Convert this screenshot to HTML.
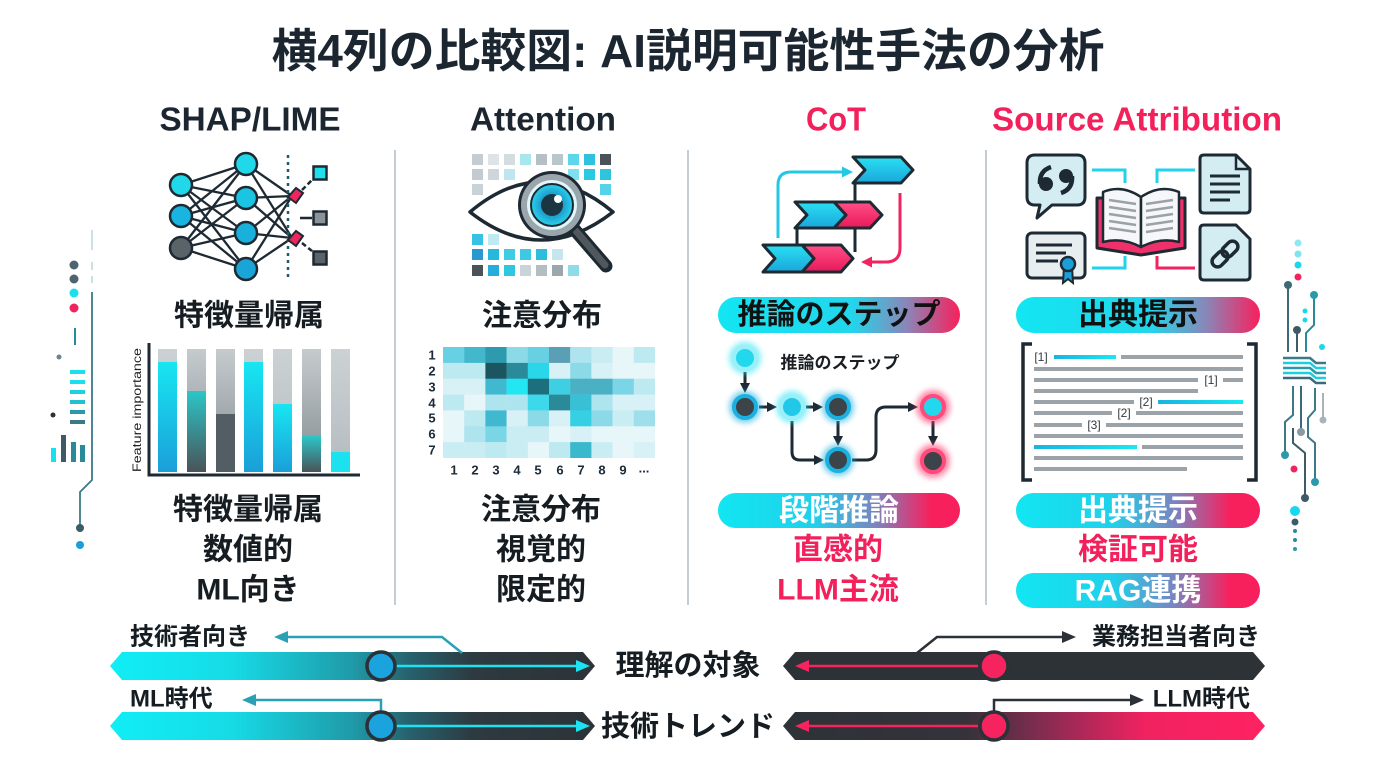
<!DOCTYPE html>
<html><head><meta charset="utf-8"><style>
html,body{margin:0;padding:0;background:#fff;}
svg{display:block;}
text{font-family:"Liberation Sans","Noto Sans CJK JP",sans-serif;font-weight:700;}
.lat{font-family:"Liberation Sans",sans-serif;}
</style></head><body>
<svg width="1376" height="768" viewBox="0 0 1376 768" xmlns="http://www.w3.org/2000/svg">
<defs>
<linearGradient id="pill" x1="0" y1="0" x2="1" y2="0"><stop offset="0" stop-color="#12e6f2"/><stop offset="0.55" stop-color="#22d6ec"/><stop offset="0.78" stop-color="#8a86b8"/><stop offset="1" stop-color="#f8205c"/></linearGradient>
<linearGradient id="pill2" x1="0" y1="0" x2="1" y2="0"><stop offset="0" stop-color="#12e6f2"/><stop offset="0.4" stop-color="#20d0ea"/><stop offset="0.65" stop-color="#7a84c0"/><stop offset="0.88" stop-color="#f8205c"/><stop offset="1" stop-color="#f8205c"/></linearGradient>
<linearGradient id="barL" gradientUnits="userSpaceOnUse" x1="110" y1="0" x2="595" y2="0"><stop offset="0" stop-color="#10eef6"/><stop offset="0.25" stop-color="#16dbe6"/><stop offset="0.5" stop-color="#1f9aa8"/><stop offset="0.62" stop-color="#27606c"/><stop offset="0.75" stop-color="#2d3a40"/><stop offset="1" stop-color="#2d3338"/></linearGradient>
<linearGradient id="barR2" gradientUnits="userSpaceOnUse" x1="783" y1="0" x2="1265" y2="0"><stop offset="0" stop-color="#2d3338"/><stop offset="0.38" stop-color="#35323a"/><stop offset="0.55" stop-color="#8a2b52"/><stop offset="0.75" stop-color="#f02260"/><stop offset="1" stop-color="#ff2262"/></linearGradient>
<linearGradient id="cb" x1="0" y1="0" x2="0" y2="1"><stop offset="0" stop-color="#18e6f2"/><stop offset="1" stop-color="#1a9fd8"/></linearGradient>
<linearGradient id="tb" x1="0" y1="0" x2="0" y2="1"><stop offset="0" stop-color="#2bc6c8"/><stop offset="1" stop-color="#4a5358"/></linearGradient>
<linearGradient id="gb" x1="0" y1="0" x2="0" y2="1"><stop offset="0" stop-color="#ccd1d4"/><stop offset="1" stop-color="#b4bbbf"/></linearGradient>
<linearGradient id="gb2" x1="0" y1="0" x2="0" y2="1"><stop offset="0" stop-color="#c6cbce"/><stop offset="1" stop-color="#838b90"/></linearGradient>
<linearGradient id="cv" x1="0" y1="0" x2="0" y2="1"><stop offset="0" stop-color="#2ae0f2"/><stop offset="1" stop-color="#1aa6dc"/></linearGradient>
<linearGradient id="pv" x1="0" y1="0" x2="0" y2="1"><stop offset="0" stop-color="#ff5088"/><stop offset="1" stop-color="#e8185a"/></linearGradient>
<linearGradient id="cl" x1="0" y1="0" x2="1" y2="0"><stop offset="0" stop-color="#18b4e0"/><stop offset="1" stop-color="#18e8f2"/></linearGradient>
<radialGradient id="iris" cx="0.5" cy="0.5" r="0.5"><stop offset="0.4" stop-color="#1a8fc4"/><stop offset="1" stop-color="#2ad2ec"/></radialGradient>
<filter id="blur" x="-60%" y="-60%" width="220%" height="220%"><feGaussianBlur stdDeviation="3"/></filter>
<marker id="mC" markerUnits="userSpaceOnUse" markerWidth="14" markerHeight="14" refX="0" refY="7" orient="auto" viewBox="0 0 14 14"><path d="M0,1 L14,7 L0,13 z" fill="#1de2f2"/></marker>
<marker id="mP" markerUnits="userSpaceOnUse" markerWidth="14" markerHeight="14" refX="0" refY="7" orient="auto" viewBox="0 0 14 14"><path d="M0,1 L14,7 L0,13 z" fill="#f5245f"/></marker>
<marker id="mT" markerUnits="userSpaceOnUse" markerWidth="14" markerHeight="14" refX="0" refY="7" orient="auto" viewBox="0 0 14 14"><path d="M0,1 L14,7 L0,13 z" fill="#2aa0b4"/></marker>
<marker id="mD" markerUnits="userSpaceOnUse" markerWidth="14" markerHeight="14" refX="0" refY="7" orient="auto" viewBox="0 0 14 14"><path d="M0,1 L14,7 L0,13 z" fill="#2b3136"/></marker>
<marker id="mS" markerUnits="userSpaceOnUse" markerWidth="10" markerHeight="10" refX="0" refY="5" orient="auto" viewBox="0 0 10 10"><path d="M0,0 L10,5 L0,10 z" fill="#1e2a33"/></marker>
<marker id="mCy" markerUnits="userSpaceOnUse" markerWidth="11" markerHeight="11" refX="0" refY="5.5" orient="auto" viewBox="0 0 11 11"><path d="M0,0 L11,5.5 L0,11 z" fill="#22c8e4"/></marker>
<marker id="mPk" markerUnits="userSpaceOnUse" markerWidth="11" markerHeight="11" refX="0" refY="5.5" orient="auto" viewBox="0 0 11 11"><path d="M0,0 L11,5.5 L0,11 z" fill="#f0245e"/></marker>
</defs>

<rect width="1376" height="768" fill="#ffffff"/>

<!-- Title -->
<text x="688" y="51" font-size="46" fill="#1b2631" text-anchor="middle" dominant-baseline="central" textLength="833" lengthAdjust="spacingAndGlyphs">横4列の比較図: AI説明可能性手法の分析</text>

<!-- Headers -->
<text class="lat" x="250" y="119" font-size="33" fill="#1b2631" text-anchor="middle" dominant-baseline="central" textLength="181" lengthAdjust="spacingAndGlyphs">SHAP/LIME</text>
<text class="lat" x="543" y="119" font-size="33" fill="#1b2631" text-anchor="middle" dominant-baseline="central" textLength="146" lengthAdjust="spacingAndGlyphs">Attention</text>
<text class="lat" x="836" y="119" font-size="33" fill="#f2215c" text-anchor="middle" dominant-baseline="central" textLength="60" lengthAdjust="spacingAndGlyphs">CoT</text>
<text class="lat" x="1137" y="119" font-size="33" fill="#f2215c" text-anchor="middle" dominant-baseline="central" textLength="290" lengthAdjust="spacingAndGlyphs">Source Attribution</text>

<!-- dividers -->
<g stroke="#c3cdd3" stroke-width="2">
<line x1="395" y1="150" x2="395" y2="605"/>
<line x1="688" y1="150" x2="688" y2="605"/>
<line x1="986" y1="150" x2="986" y2="605"/>
</g>

<!-- ===== Column 1 ===== -->
<g stroke="#1e2a33" stroke-width="2.3">
<line x1="181" y1="185" x2="246" y2="164"/><line x1="181" y1="185" x2="246" y2="198"/><line x1="181" y1="185" x2="246" y2="233"/><line x1="181" y1="185" x2="246" y2="269"/>
<line x1="181" y1="216" x2="246" y2="164"/><line x1="181" y1="216" x2="246" y2="198"/><line x1="181" y1="216" x2="246" y2="233"/><line x1="181" y1="216" x2="246" y2="269"/>
<line x1="181" y1="248" x2="246" y2="164"/><line x1="181" y1="248" x2="246" y2="198"/><line x1="181" y1="248" x2="246" y2="233"/><line x1="181" y1="248" x2="246" y2="269"/>
<line x1="246" y1="164" x2="292" y2="196"/><line x1="246" y1="198" x2="292" y2="196"/><line x1="246" y1="233" x2="292" y2="196"/><line x1="246" y1="269" x2="292" y2="196"/>
<line x1="246" y1="164" x2="292" y2="238"/><line x1="246" y1="198" x2="292" y2="238"/><line x1="246" y1="233" x2="292" y2="238"/><line x1="246" y1="269" x2="292" y2="238"/>
</g>
<line x1="288" y1="155" x2="288" y2="280" stroke="#1e5a70" stroke-width="2.5" stroke-dasharray="3,4"/>
<g stroke="#1e2a33" stroke-width="2.5">
<line x1="302" y1="190" x2="312" y2="180" stroke-dasharray="5,3"/>
<line x1="300" y1="218" x2="312" y2="218"/>
<line x1="302" y1="243" x2="312" y2="251" stroke-dasharray="5,3"/>
</g>
<g stroke="#1e2a33" stroke-width="2.5">
<circle cx="181" cy="185" r="11" fill="#20d8ea"/>
<circle cx="181" cy="216" r="11" fill="#1ab4e0"/>
<circle cx="181" cy="248" r="11" fill="#5a6368"/>
<circle cx="246" cy="164" r="11" fill="#20d8ea"/>
<circle cx="246" cy="198" r="11" fill="#1cc4e4"/>
<circle cx="246" cy="233" r="11" fill="#1ab0dc"/>
<circle cx="246" cy="269" r="11" fill="#1aa4d8"/>
<polygon points="288,197 296,188 303,193 296,203" fill="#f0245e" stroke-width="2"/>
<polygon points="288,240 296,231 303,236 296,246" fill="#f0245e" stroke-width="2"/>
<rect x="313.5" y="166.5" width="13" height="13" fill="#20e0ee"/>
<rect x="313.5" y="211.5" width="13" height="13" fill="#8a9398"/>
<rect x="313.5" y="251.5" width="13" height="13" fill="#5a6368"/>
</g>
<text x="249" y="316" font-size="30" fill="#151c22" text-anchor="middle" dominant-baseline="central">特徴量帰属</text>

<!-- bar chart -->
<rect x="158" y="349" width="19" height="123" fill="url(#gb)"/>
<rect x="187" y="349" width="19" height="123" fill="url(#gb2)"/>
<rect x="216" y="349" width="19" height="123" fill="url(#gb2)"/>
<rect x="244" y="349" width="19" height="123" fill="url(#gb)"/>
<rect x="273" y="349" width="19" height="123" fill="url(#gb)"/>
<rect x="302" y="349" width="19" height="123" fill="url(#gb2)"/>
<rect x="331" y="349" width="19" height="123" fill="url(#gb)"/>
<rect x="158" y="362" width="19" height="110" fill="url(#cb)"/>
<rect x="187" y="391" width="19" height="81" fill="url(#tb)"/>
<rect x="216" y="414" width="19" height="58" fill="#525d64"/>
<rect x="244" y="362" width="19" height="110" fill="url(#cb)"/>
<rect x="273" y="404" width="19" height="68" fill="url(#cb)"/>
<rect x="302" y="436" width="19" height="36" fill="url(#tb)"/>
<rect x="331" y="452" width="19" height="20" fill="#1ce2f0"/>
<path d="M149,343 V475 H360" fill="none" stroke="#1e2a33" stroke-width="3"/>
<text class="lat" x="0" y="0" transform="translate(137,410) rotate(-90)" font-size="12" font-weight="400" style="font-weight:400" fill="#222" text-anchor="middle" dominant-baseline="central" textLength="124" lengthAdjust="spacingAndGlyphs">Feature importance</text>

<text x="248" y="510" font-size="30" fill="#151c22" text-anchor="middle" dominant-baseline="central">特徴量帰属</text>
<text x="248" y="550" font-size="30" fill="#151c22" text-anchor="middle" dominant-baseline="central">数値的</text>
<text x="248" y="590" font-size="30" fill="#151c22" text-anchor="middle" dominant-baseline="central">ML向き</text>

<!-- ===== Column 2 ===== -->
<g>
<rect x="472" y="154" width="11" height="11" fill="#c5cdd2"/><rect x="488" y="154" width="11" height="11" fill="#dde3e6"/><rect x="504" y="154" width="11" height="11" fill="#d3dde1"/><rect x="520" y="154" width="11" height="11" fill="#a9e7ef"/><rect x="536" y="154" width="11" height="11" fill="#b5c0c6"/><rect x="552" y="154" width="11" height="11" fill="#b9c6cc"/><rect x="568" y="154" width="11" height="11" fill="#5bd6ea"/><rect x="584" y="154" width="11" height="11" fill="#2ec2de"/><rect x="600" y="154" width="11" height="11" fill="#4b5359"/>
<rect x="472" y="169" width="11" height="11" fill="#c3cbd0"/><rect x="488" y="169" width="11" height="11" fill="#cdd6da"/><rect x="504" y="169" width="11" height="11" fill="#bfe6ee"/><rect x="568" y="169" width="11" height="11" fill="#7edfee"/><rect x="584" y="169" width="11" height="11" fill="#2ac8e2"/><rect x="600" y="169" width="11" height="11" fill="#2fc4dc"/>
<rect x="472" y="184" width="11" height="11" fill="#c8d3d8"/><rect x="600" y="184" width="11" height="11" fill="#55d3e8"/>
<rect x="472" y="234" width="11" height="11" fill="#36c2e4"/><rect x="488" y="234" width="11" height="11" fill="#bfeaf2"/>
<rect x="472" y="249" width="11" height="11" fill="#2a98d0"/><rect x="488" y="249" width="11" height="11" fill="#27b8de"/><rect x="504" y="249" width="11" height="11" fill="#3fcce2"/><rect x="520" y="249" width="11" height="11" fill="#3ec8e2"/><rect x="536" y="249" width="11" height="11" fill="#2ebedc"/><rect x="552" y="249" width="11" height="11" fill="#c6e6ee"/>
<rect x="472" y="265" width="11" height="11" fill="#4b5359"/><rect x="488" y="265" width="11" height="11" fill="#27addc"/><rect x="504" y="265" width="11" height="11" fill="#2fc6e0"/><rect x="520" y="265" width="11" height="11" fill="#c9d3d8"/><rect x="536" y="265" width="11" height="11" fill="#b3bec4"/><rect x="552" y="265" width="11" height="11" fill="#9aa8ae"/><rect x="568" y="265" width="11" height="11" fill="#8edbea"/>
</g>
<path d="M470,212 Q541,152 613,212 Q541,268 470,212 Z" fill="#ffffff" stroke="#1e2a33" stroke-width="3.5" stroke-linejoin="round"/>
<line x1="574" y1="229" x2="606" y2="266" stroke="#1e2a33" stroke-width="13" stroke-linecap="round"/>
<line x1="576" y1="231" x2="605" y2="265" stroke="#50585e" stroke-width="7" stroke-linecap="round"/>
<circle cx="552" cy="205" r="34" fill="#1e2a33"/>
<circle cx="552" cy="205" r="31" fill="#9aa6ac"/>
<circle cx="552" cy="205" r="25" fill="#dff6fa"/>
<circle cx="552" cy="205" r="21" fill="url(#iris)" stroke="#1e2a33" stroke-width="2"/>
<circle cx="552" cy="205" r="11" fill="#1c3542"/>
<circle cx="558" cy="199" r="4" fill="#ffffff"/>
<text x="542" y="316" font-size="30" fill="#151c22" text-anchor="middle" dominant-baseline="central">注意分布</text>

<!-- heatmap -->
<g>
<rect x="443" y="347" width="21.4" height="16.1" fill="#68d0e3"/><rect x="464.2" y="347" width="21.4" height="16.1" fill="#43b8cc"/><rect x="485.4" y="347" width="21.4" height="16.1" fill="#2d9aad"/><rect x="506.6" y="347" width="21.4" height="16.1" fill="#8cdae8"/><rect x="527.8" y="347" width="21.4" height="16.1" fill="#68d0e3"/><rect x="549" y="347" width="21.4" height="16.1" fill="#5a9fb5"/><rect x="570.2" y="347" width="21.4" height="16.1" fill="#aee4ee"/><rect x="591.4" y="347" width="21.4" height="16.1" fill="#c9edf3"/><rect x="612.6" y="347" width="21.4" height="16.1" fill="#e6f6f9"/><rect x="633.8" y="347" width="21.2" height="16.1" fill="#bde9f1"/>
<rect x="443" y="362.9" width="21.4" height="16.1" fill="#bde9f1"/><rect x="464.2" y="362.9" width="21.4" height="16.1" fill="#bde9f1"/><rect x="485.4" y="362.9" width="21.4" height="16.1" fill="#1a5560"/><rect x="506.6" y="362.9" width="21.4" height="16.1" fill="#2a8a9a"/><rect x="527.8" y="362.9" width="21.4" height="16.1" fill="#2ad6ea"/><rect x="549" y="362.9" width="21.4" height="16.1" fill="#d8f1f6"/><rect x="570.2" y="362.9" width="21.4" height="16.1" fill="#8cdae8"/><rect x="591.4" y="362.9" width="21.4" height="16.1" fill="#d8f1f6"/><rect x="612.6" y="362.9" width="21.4" height="16.1" fill="#e6f6f9"/><rect x="633.8" y="362.9" width="21.2" height="16.1" fill="#e6f6f9"/>
<rect x="443" y="378.7" width="21.4" height="16.1" fill="#d8f1f6"/><rect x="464.2" y="378.7" width="21.4" height="16.1" fill="#d8f1f6"/><rect x="485.4" y="378.7" width="21.4" height="16.1" fill="#3fb8d0"/><rect x="506.6" y="378.7" width="21.4" height="16.1" fill="#22e6f2"/><rect x="527.8" y="378.7" width="21.4" height="16.1" fill="#1e6f7e"/><rect x="549" y="378.7" width="21.4" height="16.1" fill="#3fcfe2"/><rect x="570.2" y="378.7" width="21.4" height="16.1" fill="#4ab0c4"/><rect x="591.4" y="378.7" width="21.4" height="16.1" fill="#4ab0c4"/><rect x="612.6" y="378.7" width="21.4" height="16.1" fill="#7ad5e6"/><rect x="633.8" y="378.7" width="21.2" height="16.1" fill="#bde9f1"/>
<rect x="443" y="394.6" width="21.4" height="16.1" fill="#bde9f1"/><rect x="464.2" y="394.6" width="21.4" height="16.1" fill="#e6f6f9"/><rect x="485.4" y="394.6" width="21.4" height="16.1" fill="#aee4ee"/><rect x="506.6" y="394.6" width="21.4" height="16.1" fill="#aee4ee"/><rect x="527.8" y="394.6" width="21.4" height="16.1" fill="#3dd8ea"/><rect x="549" y="394.6" width="21.4" height="16.1" fill="#2a8a9a"/><rect x="570.2" y="394.6" width="21.4" height="16.1" fill="#38c0d6"/><rect x="591.4" y="394.6" width="21.4" height="16.1" fill="#aee4ee"/><rect x="612.6" y="394.6" width="21.4" height="16.1" fill="#d8f1f6"/><rect x="633.8" y="394.6" width="21.2" height="16.1" fill="#d8f1f6"/>
<rect x="443" y="410.4" width="21.4" height="16.1" fill="#e6f6f9"/><rect x="464.2" y="410.4" width="21.4" height="16.1" fill="#bde9f1"/><rect x="485.4" y="410.4" width="21.4" height="16.1" fill="#3fb8d0"/><rect x="506.6" y="410.4" width="21.4" height="16.1" fill="#d8f1f6"/><rect x="527.8" y="410.4" width="21.4" height="16.1" fill="#8cdae8"/><rect x="549" y="410.4" width="21.4" height="16.1" fill="#d8f1f6"/><rect x="570.2" y="410.4" width="21.4" height="16.1" fill="#35d0e4"/><rect x="591.4" y="410.4" width="21.4" height="16.1" fill="#8cdae8"/><rect x="612.6" y="410.4" width="21.4" height="16.1" fill="#c9edf3"/><rect x="633.8" y="410.4" width="21.2" height="16.1" fill="#9edfeb"/>
<rect x="443" y="426.3" width="21.4" height="16.1" fill="#e6f6f9"/><rect x="464.2" y="426.3" width="21.4" height="16.1" fill="#aee4ee"/><rect x="485.4" y="426.3" width="21.4" height="16.1" fill="#7ad5e6"/><rect x="506.6" y="426.3" width="21.4" height="16.1" fill="#c9edf3"/><rect x="527.8" y="426.3" width="21.4" height="16.1" fill="#c9edf3"/><rect x="549" y="426.3" width="21.4" height="16.1" fill="#e6f6f9"/><rect x="570.2" y="426.3" width="21.4" height="16.1" fill="#d8f1f6"/><rect x="591.4" y="426.3" width="21.4" height="16.1" fill="#e6f6f9"/><rect x="612.6" y="426.3" width="21.4" height="16.1" fill="#e6f6f9"/><rect x="633.8" y="426.3" width="21.2" height="16.1" fill="#e6f6f9"/>
<rect x="443" y="442.1" width="21.4" height="15.9" fill="#c9edf3"/><rect x="464.2" y="442.1" width="21.4" height="15.9" fill="#c9edf3"/><rect x="485.4" y="442.1" width="21.4" height="15.9" fill="#bde9f1"/><rect x="506.6" y="442.1" width="21.4" height="15.9" fill="#c9edf3"/><rect x="527.8" y="442.1" width="21.4" height="15.9" fill="#e6f6f9"/><rect x="549" y="442.1" width="21.4" height="15.9" fill="#bde9f1"/><rect x="570.2" y="442.1" width="21.4" height="15.9" fill="#3ab8cc"/><rect x="591.4" y="442.1" width="21.4" height="15.9" fill="#c9edf3"/><rect x="612.6" y="442.1" width="21.4" height="15.9" fill="#e6f6f9"/><rect x="633.8" y="442.1" width="21.2" height="15.9" fill="#d8f1f6"/>
</g>
<g class="lat" font-size="13" fill="#1b2a3a" text-anchor="middle" dominant-baseline="central">
<text class="lat" x="432" y="355">1</text><text class="lat" x="432" y="371">2</text><text class="lat" x="432" y="387">3</text><text class="lat" x="432" y="403">4</text><text class="lat" x="432" y="418">5</text><text class="lat" x="432" y="434">6</text><text class="lat" x="432" y="450">7</text>
<text class="lat" x="454" y="470">1</text><text class="lat" x="475" y="470">2</text><text class="lat" x="496" y="470">3</text><text class="lat" x="517" y="470">4</text><text class="lat" x="538" y="470">5</text><text class="lat" x="560" y="470">6</text><text class="lat" x="581" y="470">7</text><text class="lat" x="602" y="470">8</text><text class="lat" x="623" y="470">9</text><text class="lat" x="644" y="468">...</text>
</g>

<text x="541" y="510" font-size="30" fill="#151c22" text-anchor="middle" dominant-baseline="central">注意分布</text>
<text x="541" y="550" font-size="30" fill="#151c22" text-anchor="middle" dominant-baseline="central">視覚的</text>
<text x="541" y="590" font-size="30" fill="#151c22" text-anchor="middle" dominant-baseline="central">限定的</text>

<!-- ===== Column 3 ===== -->
<path d="M778,238 V185 Q778,172 791,172 H842" fill="none" stroke="#22c8e4" stroke-width="3" marker-end="url(#mCy)"/>
<path d="M900,193 V248 Q900,262 886,262 H872" fill="none" stroke="#f0245e" stroke-width="3" marker-end="url(#mPk)"/>
<g stroke="#1e2a33" stroke-width="3">
<line x1="855" y1="183" x2="855" y2="202"/>
<line x1="797" y1="228" x2="797" y2="245"/>
<line x1="855" y1="228" x2="855" y2="252"/>
</g>
<g stroke="#1e2a33" stroke-width="3" stroke-linejoin="round">
<polygon points="853,157 901,157 913,170 901,183 853,183 865,170" fill="url(#cv)"/>
<polygon points="834,202 870,202 882,215 870,228 834,228 846,215" fill="url(#pv)"/>
<polygon points="795,202 834,202 846,215 834,228 795,228 807,215" fill="url(#cv)"/>
<polygon points="802,245 841,245 853,258.5 841,272 802,272 814,258.5" fill="url(#pv)"/>
<polygon points="763,245 802,245 814,258.5 802,272 763,272 775,258.5" fill="url(#cv)"/>
</g>

<rect x="718" y="297" width="242" height="36" rx="18" fill="url(#pill)"/>
<text x="839" y="315" font-size="29" fill="#111" text-anchor="middle" dominant-baseline="central">推論のステップ</text>

<text x="840" y="363" font-size="17" fill="#1a1f24" text-anchor="middle" dominant-baseline="central">推論のステップ</text>

<!-- step arrows -->
<g fill="none" stroke="#1e2a33" stroke-width="3">
<line x1="745" y1="372" x2="745" y2="383" marker-end="url(#mS)"/>
<line x1="759" y1="407" x2="767" y2="407" marker-end="url(#mS)"/>
<line x1="806" y1="407" x2="813" y2="407" marker-end="url(#mS)"/>
<line x1="838" y1="421" x2="838" y2="436" marker-end="url(#mS)"/>
<path d="M792,421 V452 Q792,460 800,460 H814" marker-end="url(#mS)"/>
<path d="M852,460 H866 Q876,460 876,450 V417 Q876,407 886,407 H908" marker-end="url(#mS)"/>
<line x1="933" y1="421" x2="933" y2="436" marker-end="url(#mS)"/>
</g>
<!-- step nodes -->
<g>
<circle cx="745" cy="358" r="16" fill="#30e6f4" opacity="0.6" filter="url(#blur)"/>
<circle cx="745" cy="358" r="11" fill="#22d8ec" stroke="#9af0f8" stroke-width="4"/>
<circle cx="745" cy="407" r="16" fill="#1ab0e0" opacity="0.6" filter="url(#blur)"/>
<circle cx="745" cy="407" r="11" fill="#3d4449" stroke="#1ab0e0" stroke-width="4"/>
<circle cx="792" cy="407" r="16" fill="#30e6f4" opacity="0.6" filter="url(#blur)"/>
<circle cx="792" cy="407" r="11" fill="#22c8e8" stroke="#9af0f8" stroke-width="4"/>
<circle cx="838" cy="407" r="16" fill="#1ab0e0" opacity="0.6" filter="url(#blur)"/>
<circle cx="838" cy="407" r="11" fill="#3d4449" stroke="#1ab0e0" stroke-width="4"/>
<circle cx="838" cy="460" r="16" fill="#1ab0e0" opacity="0.6" filter="url(#blur)"/>
<circle cx="838" cy="460" r="11" fill="#3d4449" stroke="#1ab0e0" stroke-width="4"/>
<circle cx="933" cy="407" r="17" fill="#ff3a70" opacity="0.6" filter="url(#blur)"/>
<circle cx="933" cy="407" r="11" fill="#22d8ec" stroke="#ff4a7a" stroke-width="4"/>
<circle cx="933" cy="461" r="17" fill="#ff3a70" opacity="0.6" filter="url(#blur)"/>
<circle cx="933" cy="461" r="11" fill="#3d4449" stroke="#ff4a7a" stroke-width="4"/>
</g>

<rect x="718" y="493" width="242" height="35" rx="17.5" fill="url(#pill2)"/>
<text x="839" y="511" font-size="30" fill="#ffffff" text-anchor="middle" dominant-baseline="central">段階推論</text>
<text x="838" y="550" font-size="30" fill="#f2215c" text-anchor="middle" dominant-baseline="central">直感的</text>
<text x="838" y="590" font-size="30" fill="#f2215c" text-anchor="middle" dominant-baseline="central">LLM主流</text>

<!-- ===== Column 4 ===== -->
<g fill="none" stroke-width="3">
<path d="M1092,170 H1125 V183" stroke="#22d2ea"/>
<path d="M1157,183 V170 H1195" stroke="#22d2ea"/>
<path d="M1092,268 H1125 V256" stroke="#22d2ea"/>
<path d="M1157,256 V268 H1195" stroke="#f0245e"/>
</g>
<!-- quote bubble -->
<path d="M1035,155 H1077 Q1085,155 1085,163 V197 Q1085,205 1077,205 H1052 L1037,218 L1040,205 H1035 Q1027,205 1027,197 V163 Q1027,155 1035,155 Z" fill="#d4edf3" stroke="#1e2a33" stroke-width="3" stroke-linejoin="round"/>
<circle cx="1046" cy="184" r="7" fill="#1e2a33"/>
<path d="M1040,184 Q1039,171 1051,167" fill="none" stroke="#1e2a33" stroke-width="4.5"/>
<circle cx="1066" cy="176" r="7" fill="#1e2a33"/>
<path d="M1072,176 Q1073,189 1061,193" fill="none" stroke="#1e2a33" stroke-width="4.5"/>
<!-- certificate -->
<rect x="1027" y="233" width="58" height="45" rx="5" fill="#e8eef0" stroke="#1e2a33" stroke-width="3"/>
<g stroke="#1e2a33" stroke-width="3"><line x1="1036" y1="245" x2="1072" y2="245"/><line x1="1036" y1="253" x2="1066" y2="253"/><line x1="1036" y1="261" x2="1058" y2="261"/></g>
<path d="M1064,266 L1063,283 L1068,279 L1073,283 L1072,266" fill="#1a9fd8" stroke="#1e2a33" stroke-width="2"/>
<circle cx="1068" cy="264" r="7" fill="#1a9fd8" stroke="#1e2a33" stroke-width="2.5"/>
<!-- book -->
<path d="M1097,198 V248 L1141,255 L1185,248 V198 Z" fill="#f0306a" stroke="#1e2a33" stroke-width="3" stroke-linejoin="round"/>
<path d="M1103,192 Q1122,184 1141,197 V247 Q1122,237 1103,242 Z" fill="#f5f7f8" stroke="#1e2a33" stroke-width="2.5" stroke-linejoin="round"/>
<path d="M1179,192 Q1160,184 1141,197 V247 Q1160,237 1179,242 Z" fill="#f5f7f8" stroke="#1e2a33" stroke-width="2.5" stroke-linejoin="round"/>
<g stroke="#9aa2a6" stroke-width="2.5">
<line x1="1109" y1="200" x2="1136" y2="204"/><line x1="1109" y1="207" x2="1136" y2="211"/><line x1="1109" y1="214" x2="1136" y2="218"/><line x1="1109" y1="221" x2="1136" y2="225"/><line x1="1109" y1="228" x2="1136" y2="232"/>
<line x1="1146" y1="204" x2="1173" y2="200"/><line x1="1146" y1="211" x2="1173" y2="207"/><line x1="1146" y1="218" x2="1173" y2="214"/><line x1="1146" y1="225" x2="1173" y2="221"/><line x1="1146" y1="232" x2="1173" y2="228"/>
</g>
<!-- doc -->
<path d="M1204,155 H1236 L1250,169 V209 Q1250,213 1246,213 H1204 Q1200,213 1200,209 V159 Q1200,155 1204,155 Z" fill="#d4edf3" stroke="#1e2a33" stroke-width="3" stroke-linejoin="round"/>
<path d="M1236,155 V169 H1250" fill="none" stroke="#1e2a33" stroke-width="2.5"/>
<g stroke="#1e2a33" stroke-width="3"><line x1="1210" y1="176" x2="1240" y2="176"/><line x1="1210" y1="184" x2="1240" y2="184"/><line x1="1210" y1="192" x2="1240" y2="192"/><line x1="1210" y1="200" x2="1230" y2="200"/></g>
<!-- link doc -->
<path d="M1204,225 H1236 L1250,239 V276 Q1250,280 1246,280 H1204 Q1200,280 1200,276 V229 Q1200,225 1204,225 Z" fill="#d4edf3" stroke="#1e2a33" stroke-width="3" stroke-linejoin="round"/>
<g transform="translate(1225,254) rotate(-45)" fill="none" stroke="#1e2a33" stroke-width="3.5">
<rect x="-16" y="-5.5" width="18" height="11" rx="5.5"/>
<rect x="-2" y="-5.5" width="18" height="11" rx="5.5"/>
</g>

<rect x="1016" y="297" width="244" height="36" rx="18" fill="url(#pill)"/>
<text x="1138" y="315" font-size="30" fill="#111" text-anchor="middle" dominant-baseline="central">出典提示</text>

<!-- citation doc -->
<g fill="none" stroke="#1e2a33" stroke-width="3.5">
<path d="M1032,344 H1023 V480 H1032"/>
<path d="M1247,344 H1256 V480 H1247"/>
</g>
<g>
<rect x="1054" y="355" width="62" height="4" fill="url(#cl)"/><rect x="1121" y="355" width="122" height="4" fill="#9ca3a8"/>
<rect x="1034" y="367" width="209" height="4" fill="#9ca3a8"/>
<rect x="1034" y="378" width="164" height="4" fill="#9ca3a8"/><rect x="1223" y="378" width="20" height="4" fill="#9ca3a8"/>
<rect x="1034" y="389" width="164" height="4" fill="#9ca3a8"/>
<rect x="1034" y="400" width="100" height="4" fill="#9ca3a8"/><rect x="1158" y="400" width="85" height="4" fill="url(#cl)"/>
<rect x="1034" y="411" width="78" height="4" fill="#9ca3a8"/><rect x="1136" y="411" width="107" height="4" fill="#9ca3a8"/>
<rect x="1034" y="423" width="48" height="4" fill="#9ca3a8"/><rect x="1106" y="423" width="137" height="4" fill="#9ca3a8"/>
<rect x="1034" y="434" width="209" height="4" fill="#9ca3a8"/>
<rect x="1034" y="445" width="103" height="4" fill="url(#cl)"/><rect x="1142" y="445" width="101" height="4" fill="#9ca3a8"/>
<rect x="1034" y="456" width="209" height="4" fill="#9ca3a8"/>
<rect x="1034" y="467" width="153" height="4" fill="#9ca3a8"/>
</g>
<g font-size="12" fill="#333b40" dominant-baseline="central" text-anchor="middle">
<text class="lat" x="1041" y="357" style="font-weight:400">[1]</text>
<text class="lat" x="1211" y="380" style="font-weight:400">[1]</text>
<text class="lat" x="1146" y="402" style="font-weight:400">[2]</text>
<text class="lat" x="1124" y="413" style="font-weight:400">[2]</text>
<text class="lat" x="1094" y="425" style="font-weight:400">[3]</text>
</g>

<rect x="1016" y="493" width="244" height="35" rx="17.5" fill="url(#pill2)"/>
<text x="1138" y="511" font-size="30" fill="#ffffff" text-anchor="middle" dominant-baseline="central">出典提示</text>
<text x="1138" y="550" font-size="30" fill="#f2215c" text-anchor="middle" dominant-baseline="central">検証可能</text>
<rect x="1016" y="573" width="244" height="35" rx="17.5" fill="url(#pill2)"/>
<text x="1138" y="591" font-size="30" fill="#ffffff" text-anchor="middle" dominant-baseline="central">RAG連携</text>

<!-- ===== Left decoration ===== -->
<g fill="none" stroke-width="1.8">
<path d="M92,230 V250 M92,262 V270 M92,276 V283" stroke="#c6dde2"/>
<path d="M92,292 V480 L80,492 V526" stroke="#3d7a88"/>
<path d="M75,328 V345" stroke="#2a8a9a" stroke-width="2"/>
</g>
<circle cx="74" cy="265" r="4.5" fill="#4d6470"/><circle cx="74" cy="279" r="4.5" fill="#4d6470"/><circle cx="74" cy="293" r="4.5" fill="#18e0ee"/><circle cx="74" cy="308" r="4.5" fill="#f0245e"/>
<circle cx="59" cy="357" r="2.5" fill="#6a8590"/>
<rect x="70" y="370" width="15" height="4" fill="#18e0ee"/><rect x="70" y="380" width="15" height="4" fill="#18e0ee"/><rect x="70" y="390" width="15" height="4" fill="#20d0e0"/><rect x="70" y="400" width="15" height="4" fill="#22c0d0"/><rect x="70" y="410" width="15" height="4" fill="#2a9aa8"/><rect x="70" y="420" width="15" height="4" fill="#3a7a88"/>
<circle cx="53" cy="415" r="2.5" fill="#2b3136"/>
<rect x="51" y="448" width="5" height="14" fill="#18e0ee"/><rect x="61" y="435" width="5" height="27" fill="#3d5a66"/><rect x="71" y="442" width="5" height="20" fill="#2a8a9a"/><rect x="80" y="445" width="5" height="17" fill="#2a8a9a"/>
<circle cx="80" cy="528" r="4" fill="#3d5a66"/><circle cx="80" cy="545" r="4" fill="#1a9fd8"/>

<!-- ===== Right decoration ===== -->
<circle cx="1298" cy="243" r="3.5" fill="#8ce8f2"/><circle cx="1298" cy="254" r="3.5" fill="#7ee4f0"/><circle cx="1298" cy="265" r="3.5" fill="#18d8ec"/><circle cx="1298" cy="277" r="3.5" fill="#f0245e"/>
<g fill="none" stroke-width="2">
<path d="M1288,285 V352" stroke="#3d6a78"/>
<path d="M1314,295 V325 L1306,333 V352" stroke="#2a8a9a"/>
<path d="M1297,330 V352" stroke="#3d5a66"/>
<path d="M1283,358 H1310 L1316,363 H1326" stroke="#3d7a88" stroke-width="2.5"/>
<path d="M1283,363 H1310 L1316,368 H1326" stroke="#18d0e0" stroke-width="2.5"/>
<path d="M1283,368 H1310 L1316,373 H1326" stroke="#2a9aaa" stroke-width="2.5"/>
<path d="M1283,373 H1310 L1316,378 H1326" stroke="#18d0e0" stroke-width="2.5"/>
<path d="M1283,378 H1310 L1316,383 H1326" stroke="#3d6a78" stroke-width="2.5"/>
<path d="M1293,386 V415 L1285,422 V455" stroke="#3d7a88"/>
<path d="M1301,386 V432" stroke="#3d6a78"/>
<path d="M1293,428 V443 L1305,453 V498" stroke="#3d5a66"/>
<path d="M1315,388 V410 L1308,418 V437 L1315,443 V482" stroke="#3d7a88"/>
<path d="M1323,393 V420" stroke="#a8b4ba"/>
</g>
<circle cx="1288" cy="285" r="4" fill="#3d6a78"/><circle cx="1314" cy="295" r="4" fill="#2a9aaa"/><circle cx="1297" cy="330" r="4" fill="#3d5a66"/>
<circle cx="1305" cy="311" r="2.5" fill="#18d8ec"/><circle cx="1305" cy="320" r="2.5" fill="#18d8ec"/><circle cx="1322" cy="347" r="3" fill="#18d8ec"/>
<circle cx="1285" cy="455" r="4" fill="#2a9aaa"/><circle cx="1301" cy="432" r="4" fill="#8a9aa2"/><circle cx="1305" cy="498" r="4" fill="#3d5a66"/><circle cx="1315" cy="482" r="4" fill="#2a9aaa"/><circle cx="1323" cy="420" r="3.5" fill="#a8b4ba"/>
<circle cx="1294" cy="469" r="3.5" fill="#f0245e"/>
<circle cx="1295" cy="511" r="5" fill="#18d8ec"/><circle cx="1295" cy="522" r="3.5" fill="#3d5a66"/><circle cx="1295" cy="531" r="2" fill="#2a8a9a"/><circle cx="1295" cy="540" r="2" fill="#2a8a9a"/><circle cx="1295" cy="549" r="2" fill="#2a9aaa"/>

<!-- ===== Bottom bars ===== -->
<!-- row 1 -->
<polygon points="110,666 122,652 583,652 595,666 583,680 122,680" fill="url(#barL)"/>
<polygon points="783,666 795,652 1253,652 1265,666 1253,680 795,680" fill="#2d3237"/>
<line x1="396" y1="666" x2="576" y2="666" stroke="#1de2f2" stroke-width="2.5" marker-end="url(#mC)"/>
<line x1="978" y1="666" x2="809" y2="666" stroke="#f5245f" stroke-width="2.5" marker-end="url(#mP)"/>
<circle cx="381" cy="666" r="14" fill="#1aa3dc" stroke="#2b3136" stroke-width="3.5"/>
<circle cx="994" cy="666" r="14" fill="#f5245f" stroke="#2b3136" stroke-width="3.5"/>
<path d="M462,653 L442,637 L288,637" fill="none" stroke="#2aa0b4" stroke-width="2.5" marker-end="url(#mT)"/>
<path d="M917,653 L937,637 L1062,637" fill="none" stroke="#2b3136" stroke-width="2.5" marker-end="url(#mD)"/>
<text x="130" y="637" font-size="24" fill="#151c22" dominant-baseline="central">技術者向き</text>
<text x="1260" y="637" font-size="24" fill="#151c22" text-anchor="end" dominant-baseline="central">業務担当者向き</text>
<text x="688" y="666" font-size="29" fill="#151c22" text-anchor="middle" dominant-baseline="central">理解の対象</text>

<!-- row 2 -->
<polygon points="110,726 122,712 583,712 595,726 583,740 122,740" fill="url(#barL)"/>
<polygon points="783,726 795,712 1253,712 1265,726 1253,740 795,740" fill="url(#barR2)"/>
<line x1="396" y1="726" x2="576" y2="726" stroke="#1de2f2" stroke-width="2.5" marker-end="url(#mC)"/>
<line x1="978" y1="726" x2="809" y2="726" stroke="#f5245f" stroke-width="2.5" marker-end="url(#mP)"/>
<path d="M381,712 V700 L256,700" fill="none" stroke="#2aa0b4" stroke-width="2.5" marker-end="url(#mT)"/>
<path d="M994,712 V700 L1130,700" fill="none" stroke="#2b3136" stroke-width="2.5" marker-end="url(#mD)"/>
<circle cx="381" cy="726" r="14" fill="#1aa3dc" stroke="#2b3136" stroke-width="3.5"/>
<circle cx="994" cy="726" r="14" fill="#f5245f" stroke="#2b3136" stroke-width="3.5"/>
<text x="130" y="699" font-size="24" fill="#151c22" dominant-baseline="central">ML時代</text>
<text x="1250" y="699" font-size="24" fill="#151c22" text-anchor="end" dominant-baseline="central">LLM時代</text>
<text x="688" y="727" font-size="29" fill="#151c22" text-anchor="middle" dominant-baseline="central">技術トレンド</text>
</svg>
</body></html>
